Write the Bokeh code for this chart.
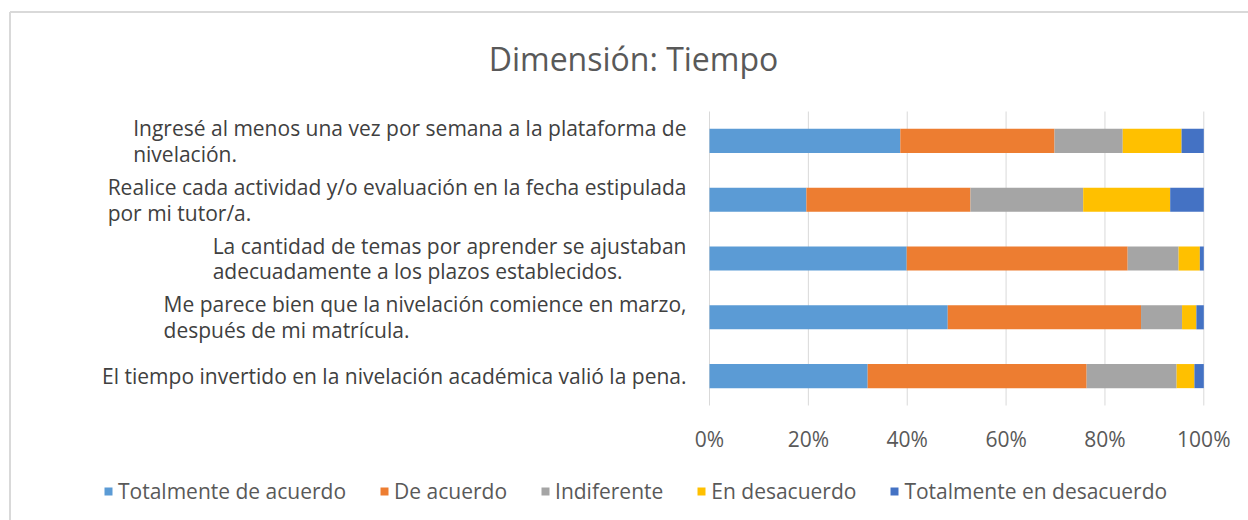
from bokeh.plotting import figure
from bokeh.models import (Range1d, Label, Legend, LegendItem, ColumnDataSource)
from bokeh.core.properties import value
from bokeh.embed import file_html
from bokeh.resources import INLINE

categories = [
    "Ingresé al menos una vez por semana a la plataforma de\nnivelación.",
    "Realice cada actividad y/o evaluación en la fecha estipulada\npor mi tutor/a.",
    "La cantidad de temas por aprender se ajustaban\nadecuadamente a los plazos establecidos.",
    "Me parece bien que la nivelación comience en marzo,\ndespués de mi matrícula.",
    "El tiempo invertido en la nivelación académica valió la pena.",
]
series = ["Totalmente de acuerdo", "De acuerdo", "Indiferente",
          "En desacuerdo", "Totalmente en desacuerdo"]
totalmente_de_acuerdo = [38.6, 19.6, 39.9, 48.2, 32.0]
de_acuerdo = [31.2, 33.2, 44.7, 39.1, 44.3]
indiferente = [13.8, 22.8, 10.3, 8.3, 18.2]
en_desacuerdo = [11.9, 17.6, 4.3, 2.9, 3.6]
totalmente_en_desacuerdo = [4.5, 6.8, 0.8, 1.5, 1.9]
x_ticks = [0, 20, 40, 60, 80, 100]
tick_labels = ["0%", "20%", "40%", "60%", "80%", "100%"]
title_text = "Dimensión: Tiempo"
colors = ["#5B9BD5", "#ED7D31", "#A5A5A5", "#FFC000", "#4472C4"]

FONT = "Open Sans"
W, H = 1248, 520
# plot-area geometry (pixels)
X0, X100 = 709.0, 1203.3
BAND_TOP, BAND_BOT = 111.0, 405.0
n = len(categories)
px_per_x = (X100 - X0) / 100.0
px_per_y = (BAND_BOT - BAND_TOP) / n

def dx(px):
    return (px - X0) / px_per_x

def dy(py):
    return (BAND_BOT - py) / px_per_y

ypos = [n - 0.5 - i for i in range(n)]
keys = ["s0", "s1", "s2", "s3", "s4"]
src = ColumnDataSource(dict(cat=categories, y=ypos,
                            s0=totalmente_de_acuerdo, s1=de_acuerdo, s2=indiferente,
                            s3=en_desacuerdo, s4=totalmente_en_desacuerdo))

p = figure(width=W, height=H,
           x_range=Range1d(dx(0), dx(W)), y_range=Range1d(dy(H), dy(0)),
           output_backend="svg", toolbar_location=None,
           min_border=0, min_border_left=0, min_border_right=0,
           min_border_top=0, min_border_bottom=0)
p.outline_line_color = None
p.xaxis.visible = False
p.yaxis.visible = False
p.grid.visible = False

# chart border (only top and left edges fall inside the window)
p.segment(x0=[dx(9.5), dx(9.5)], x1=[dx(W + 20), dx(9.5)],
          y0=[dy(11.5), dy(11.5)], y1=[dy(11.5), dy(H + 20)],
          line_color="#d9d9d9", line_width=2)

# vertical gridlines
p.segment(x0=x_ticks, x1=x_ticks, y0=[0] * len(x_ticks), y1=[n] * len(x_ticks),
          line_color="#d9d9d9", line_width=1)

renderers = p.hbar_stack(keys, y="y", height=0.41, color=colors, source=src, line_width=0)

# x tick labels
p.text(x=x_ticks, y=[dy(438)] * len(x_ticks), text=tick_labels,
       text_font=value(FONT), text_font_size="21px", text_color="#595959",
       text_align="center", text_baseline="middle")

# category labels (left-aligned lines, block right-anchored)
for cat, yy in zip(categories, ypos):
    p.add_layout(Label(x=dx(686), y=yy, text=cat, anchor="center_right", text_align="left",
                       text_font=FONT, text_font_size="21px", text_color="#404040",
                       text_line_height=0.92))

p.add_layout(Label(x=dx(633), y=dy(58), text=title_text, anchor="center",
                   text_font=FONT, text_font_size="32px", text_color="#595959"))

items = [LegendItem(label=s, renderers=[r]) for s, r in zip(series, renderers)]
legend = Legend(items=items, orientation="horizontal", location=(103, 15),
                glyph_width=10, glyph_height=10, label_standoff=5, spacing=33,
                label_text_font=FONT, label_text_font_size="21px",
                label_text_color="#595959", border_line_color=None,
                background_fill_alpha=0, padding=0, margin=0)
p.add_layout(legend, "center")

open("out.html", "w").write(file_html(p, INLINE))
